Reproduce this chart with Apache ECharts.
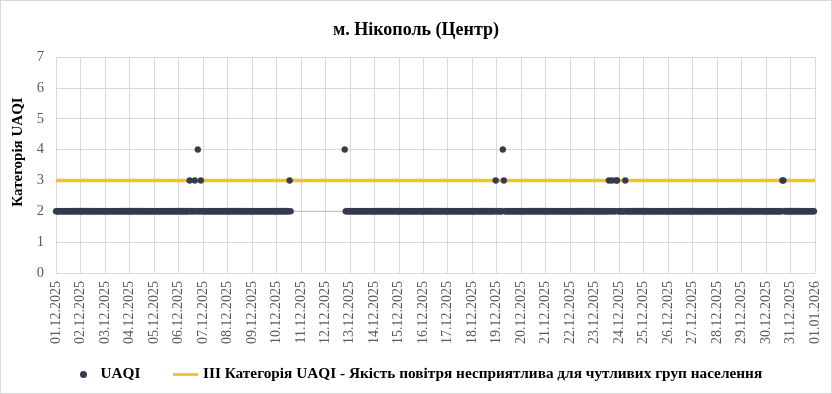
<!DOCTYPE html>
<html>
<head>
<meta charset="utf-8">
<script src="https://cdn.jsdelivr.net/npm/echarts@6/dist/echarts.min.js"></script>
<style>
  html, body { margin: 0; padding: 0; background: #fff; }
  #chart { width: 832px; height: 394px; box-sizing: border-box; border: 1px solid #d9d9d9; }
</style>
</head>
<body>
<div id="chart"></div>
<script>
// ---- data (hourly UAQI category, 01.12.2025 00:00 .. 31.12.2025 23:00) ----
const chartTitle = 'м. Нікополь (Центр)';
const yAxisTitle = 'Категорія UAQI';
const seriesName = 'UAQI';
const thresholdName = 'ІІІ Категорія UAQI - Якість повітря несприятлива для чутливих груп населення';
const thresholdValue = 3;
const dateLabels = ['01.12.2025','02.12.2025','03.12.2025','04.12.2025','05.12.2025','06.12.2025','07.12.2025',
  '08.12.2025','09.12.2025','10.12.2025','11.12.2025','12.12.2025','13.12.2025','14.12.2025','15.12.2025',
  '16.12.2025','17.12.2025','18.12.2025','19.12.2025','20.12.2025','21.12.2025','22.12.2025','23.12.2025',
  '24.12.2025','25.12.2025','26.12.2025','27.12.2025','28.12.2025','29.12.2025','30.12.2025','31.12.2025','01.01.2026'];
const hoursPerDay = 24;
const yTicks = [0, 1, 2, 3, 4, 5, 6, 7];
// run-length list of hourly readings: [value, number of consecutive hours]; null = no data
const uaqiRuns = [
  [2, 131], [3, 1], [2, 4], [3, 1], [2, 2], [4, 1], [2, 2], [3, 1], [2, 86], [3, 1], [2, 1],
  [null, 52],
  [4, 1], [2, 147], [3, 1], [2, 6], [4, 1], [3, 1], [2, 102], [3, 1], [2, 2], [3, 1], [2, 3],
  [3, 1], [3, 1], [2, 7], [3, 1], [2, 153], [3, 1], [3, 1], [2, 30]
];

// ---- decode runs into hourly points ----
const points = [];
const gapLine = [];
let hour = 0;
uaqiRuns.forEach(function (run, i) {
  const v = run[0], n = run[1];
  if (v === null) {
    gapLine.push([hour - 1, uaqiRuns[i - 1][0]]);
    gapLine.push([hour + n + (uaqiRuns[i + 1][0] === uaqiRuns[i - 1][0] ? 0 : 1), uaqiRuns[i - 1][0]]);
  } else {
    for (let k = 0; k < n; k++) points.push([hour + k, v]);
  }
  hour += n;
});
const xMax = (dateLabels.length - 1) * hoursPerDay;

const serif = 'Liberation Serif, Times New Roman, serif';
const legendText = { fontFamily: serif, fontSize: 15.3, fontWeight: 'bold', color: '#000' };
const chart = echarts.init(document.getElementById('chart'));
chart.setOption({
  animation: false,
  backgroundColor: '#fff',
  title: {
    text: chartTitle, left: 'center', top: 15,
    textStyle: { fontFamily: serif, fontSize: 18, fontWeight: 'bold', color: '#000' }
  },
  grid: { left: 55, right: 16, top: 56, bottom: 120, containLabel: false },
  legend: [
    {
      left: 79, top: 366, padding: 0, itemWidth: 24, itemHeight: 5,
      textStyle: legendText,
      data: [{ name: seriesName, icon: 'circle' }]
    },
    {
      left: 172, top: 366, padding: 0, itemWidth: 25, itemHeight: 6,
      textStyle: legendText,
      data: [{ name: thresholdName, icon: 'path://M0,0H27V3H0Z' }]
    }
  ],
  xAxis: {
    type: 'value', min: 0, max: xMax, interval: hoursPerDay,
    axisLine: { show: true, lineStyle: { color: '#d9d9d9' } },
    axisTick: { show: false },
    splitLine: { show: true, lineStyle: { color: '#d9d9d9', width: 1 } },
    axisLabel: {
      rotate: 90, margin: 8, color: '#595959', fontFamily: serif, fontSize: 14,
      formatter: function (v) { return dateLabels[Math.round(v / hoursPerDay)] || ''; }
    }
  },
  yAxis: {
    type: 'value', min: yTicks[0], max: yTicks[yTicks.length - 1], interval: 1,
    name: yAxisTitle, nameLocation: 'middle', nameGap: 22,
    nameTextStyle: { fontFamily: serif, fontSize: 15, fontWeight: 'bold', color: '#000', padding: [0, 0, 0, 26] },
    axisLine: { show: false },
    axisTick: { show: false },
    splitLine: { show: true, lineStyle: { color: '#d9d9d9', width: 1 } },
    axisLabel: { margin: 12, color: '#595959', fontFamily: serif, fontSize: 14.5 }
  },
  series: [
    {
      name: 'gap', type: 'line', data: gapLine, symbol: 'none', z: 1, silent: true,
      lineStyle: { color: '#bfbfbf', width: 1 }, legendHoverLink: false
    },
    {
      name: thresholdName, type: 'line', data: [[0, thresholdValue], [xMax, thresholdValue]],
      symbol: 'none', z: 2, lineStyle: { color: '#f2c12e', width: 3.5 }, itemStyle: { color: '#f2c12e' }
    },
    {
      name: seriesName, type: 'scatter', data: points, symbol: 'circle', symbolSize: 6, z: 3,
      itemStyle: { color: '#343b4c', opacity: 1, borderColor: '#343b4c', borderWidth: 0.5 }
    }
  ]
});
</script>
</body>
</html>
